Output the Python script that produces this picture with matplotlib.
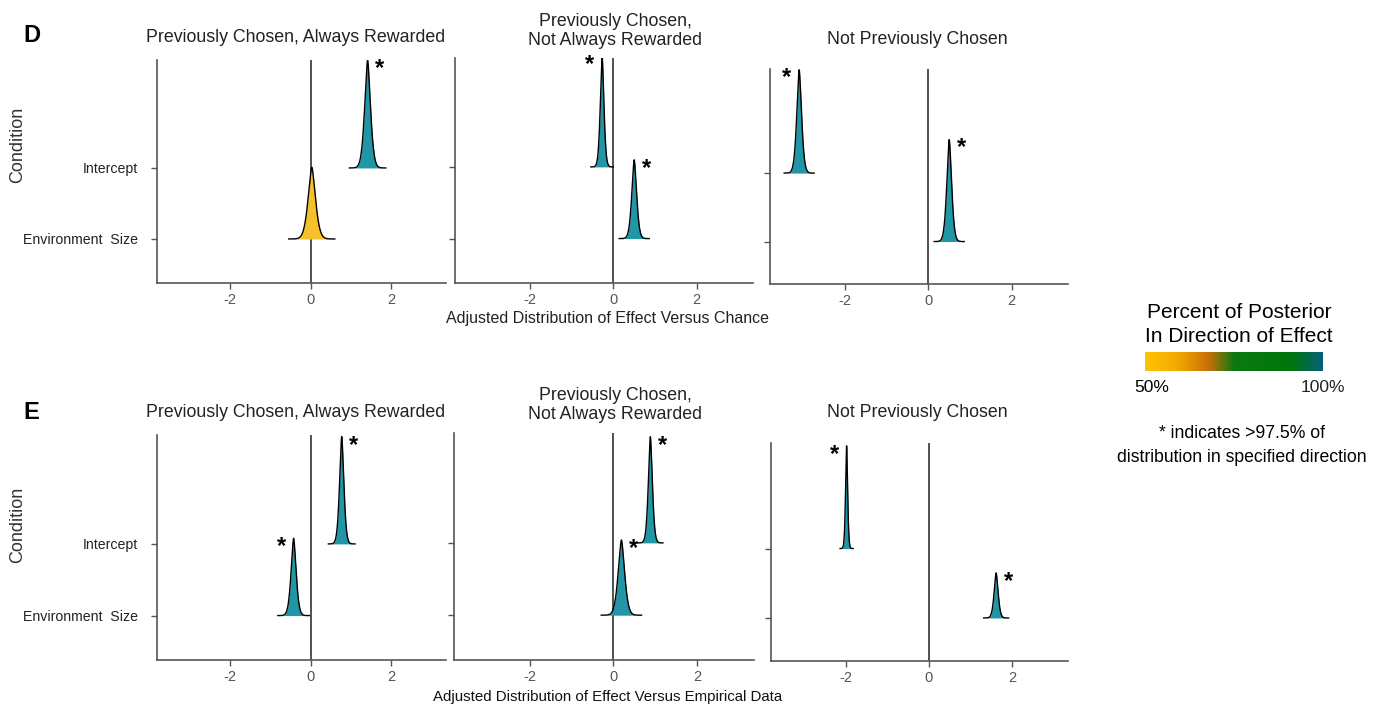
import numpy as np
import matplotlib
matplotlib.use("Agg")
import matplotlib.pyplot as plt
from matplotlib.colors import LinearSegmentedColormap

plt.rcParams['font.family'] = ['Liberation Sans', 'DejaVu Sans']

# data
conditions = ["Environment  Size", "Intercept"]
panel_titles = ["Previously Chosen, Always Rewarded",
                "Previously Chosen,\nNot Always Rewarded",
                "Not Previously Chosen"]
xticks = [-2, 0, 2]

# row D (versus chance): [Environment Size, Intercept] per panel
d_center = [[0.03, 1.41], [0.50, -0.27], [0.50, -3.10]]
d_spread = [[0.095, 0.075], [0.06, 0.045], [0.06, 0.06]]
d_height = [[1.01, 1.52], [1.10, 1.55], [1.49, 1.51]]
d_star = [[False, True], [True, True], [True, True]]
d_color = [["#f6c02a", "#2096a6"], ["#2096a6", "#2096a6"], ["#2096a6", "#2096a6"]]

# row E (versus empirical data)
e_center = [[-0.42, 0.77], [0.19, 0.88], [1.62, -1.98]]
e_spread = [[0.065, 0.055], [0.08, 0.05], [0.05, 0.026]]
e_height = [[1.08, 1.50], [1.04, 1.47], [0.65, 1.48]]
e_star = [[True, True], [True, True], [True, True]]
e_color = [["#2096a6", "#2096a6"], ["#2096a6", "#2096a6"], ["#2096a6", "#2096a6"]]

# which side the asterisk sits on (+1 right, -1 left)
d_side = [[1, 1], [1, -1], [1, -1]]
e_side = [[-1, 1], [1, 1], [1, -1]]

W, H = 1381, 705
fig = plt.figure(figsize=(W / 100, H / 100), dpi=100)

def px_axes(left, top, right, bottom):
    return fig.add_axes([left / W, 1 - bottom / H, (right - left) / W, (bottom - top) / H])

def px_text(x, y, s, **kw):
    kw.setdefault('ha', 'center')
    kw.setdefault('va', 'center')
    return fig.text(x / W, 1 - y / H, s, **kw)

# pixel boxes for each panel (left, top, right, bottom)
d_boxes = [(157, 60, 446, 283), (455, 58, 753, 283), (770, 69, 1068, 284)]
e_boxes = [(157, 435, 446, 660), (454, 433, 754, 660), (771, 443, 1068, 661)]
title_x = [296, 615, 917]
d_title_y = [37, 31, 40]
e_title_y = [413, 405, 413]

def ridge(ax, center, spread, height, color, star, side):
    for k in range(2):
        base = k + 1
        x = np.linspace(center[k] - 6 * spread[k], center[k] + 6 * spread[k], 400)
        z = np.abs((x - center[k]) / spread[k])
        y = base + height[k] * np.exp(-0.6 * z ** 1.6)
        ax.fill_between(x, base, y, color=color[k], zorder=2, lw=0)
        ax.plot(x, y, color='black', lw=1.0, zorder=3)
        if star[k]:
            ax.text(center[k] + side[k] * 0.3, base + height[k] - 0.12, '*',
                    ha='center', va='center', fontsize=17, fontweight='bold', zorder=4)

def panel(ax, center, spread, height, color, star, side, first):
    ax.set_xlim(-3.8, 3.35)
    ax.set_ylim(0.38, 3.52)
    ax.axvline(0, color='#333333', lw=1.2, zorder=1)
    ridge(ax, center, spread, height, color, star, side)
    ax.set_xticks(xticks)
    ax.set_xticklabels([str(t) for t in xticks], fontsize=10.5, color='#555555')
    ax.set_yticks([1, 2])
    if first:
        ax.set_yticklabels(conditions, fontsize=10.2, color='#222222')
    else:
        ax.set_yticklabels([])
    ax.tick_params(axis='both', length=4, color='#555555', width=1)
    ax.tick_params(axis='y', pad=10)
    for s in ['top', 'right']:
        ax.spines[s].set_visible(False)
    for s in ['left', 'bottom']:
        ax.spines[s].set_color('#555555')
        ax.spines[s].set_linewidth(1.2)

for i in range(3):
    ax = px_axes(*d_boxes[i])
    panel(ax, d_center[i], d_spread[i], d_height[i],
          d_color[i], d_star[i], d_side[i], i == 0)
    px_text(title_x[i], d_title_y[i], panel_titles[i], fontsize=12.8,
            color='#222222', linespacing=1.15)

for i in range(3):
    ax = px_axes(*e_boxes[i])
    panel(ax, e_center[i], e_spread[i], e_height[i],
          e_color[i], e_star[i], e_side[i], i == 0)
    px_text(title_x[i], e_title_y[i], panel_titles[i], fontsize=12.8,
            color='#222222', linespacing=1.15)

# axis labels
px_text(18, 145, 'Condition', fontsize=13, rotation=90, color='#333333')
px_text(18, 525, 'Condition', fontsize=13, rotation=90, color='#333333')
px_text(608, 318, 'Adjusted Distribution of Effect Versus Chance', fontsize=11.5,
        color='#222222')
px_text(608, 697, 'Adjusted Distribution of Effect Versus Empirical Data', fontsize=10.8,
        color='#111111')

# panel letters
px_text(23, 35, 'D', fontsize=17, fontweight='bold', ha='left')
px_text(23, 413, 'E', fontsize=17, fontweight='bold', ha='left')

# colour legend
cmap = LinearSegmentedColormap.from_list(
    'posterior', [(0.0, '#ffc400'), (0.18, '#f2aa00'), (0.36, '#c86e08'),
                  (0.5, '#0b7a10'), (0.82, '#00760a'), (1.0, '#05607a')])
cax = px_axes(1145, 352, 1323, 371)
cax.imshow(np.linspace(0, 1, 256)[None, :], aspect='auto', cmap=cmap)
cax.axis('off')
px_text(1239, 313, 'Percent of Posterior', fontsize=15)
px_text(1239, 337, 'In Direction of Effect', fontsize=15)
px_text(1152, 388, '50%', fontsize=12.5)
px_text(1323, 388, '100%', fontsize=12.5, color='#222222')
px_text(1242, 434, '* indicates >97.5% of', fontsize=12.7)
px_text(1242, 457, 'distribution in specified direction', fontsize=12.7)

fig.savefig('out.png', dpi=100, facecolor='white')
